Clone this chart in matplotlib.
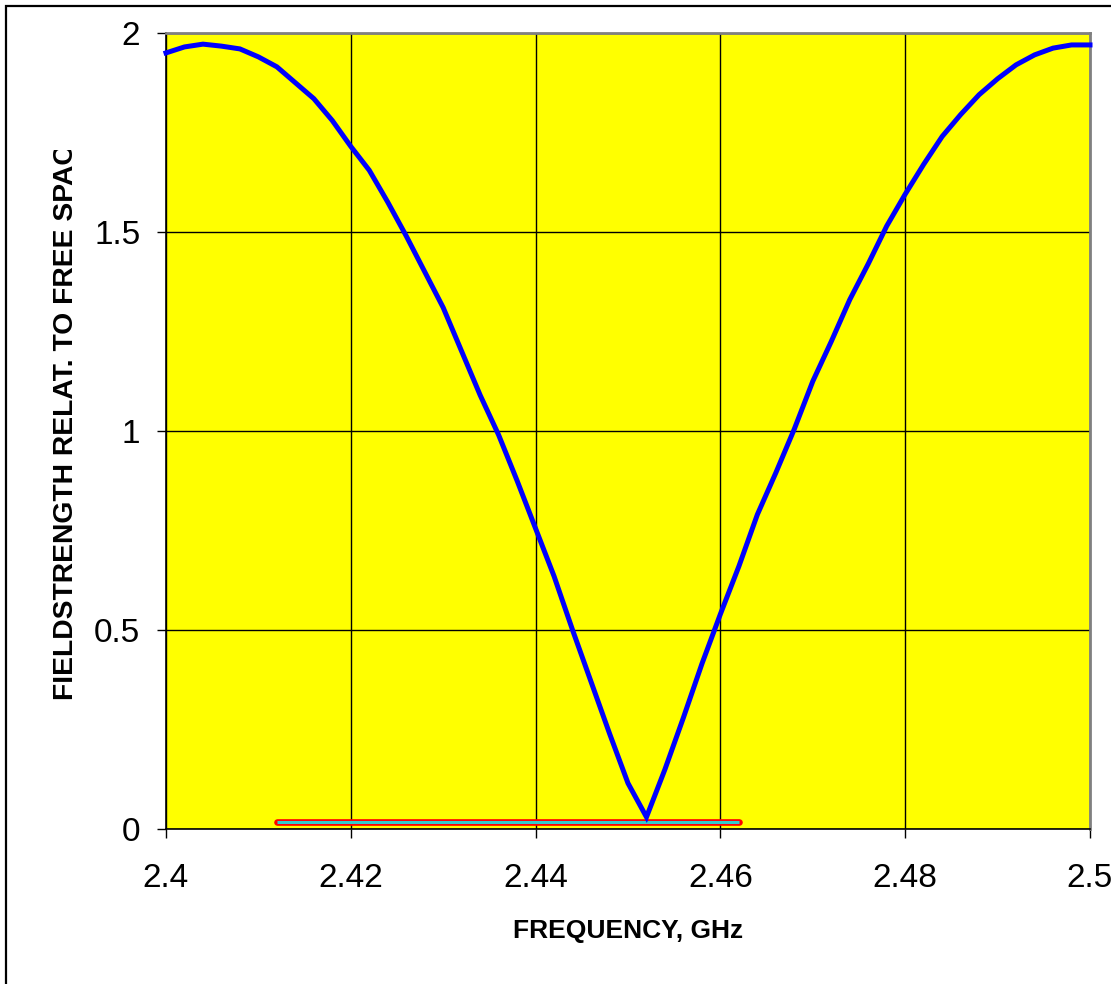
import matplotlib
matplotlib.use("Agg")
import matplotlib.pyplot as plt
from matplotlib.patches import Rectangle
from matplotlib.transforms import Bbox

plt.rcParams['font.family'] = ['Liberation Sans', 'DejaVu Sans']

freq = [2.400, 2.402, 2.404, 2.406, 2.408, 2.410, 2.412, 2.414, 2.416, 2.418,
        2.420, 2.422, 2.424, 2.426, 2.428, 2.430, 2.432, 2.434, 2.436, 2.438,
        2.440, 2.442, 2.444, 2.446, 2.448, 2.450, 2.452, 2.454, 2.456, 2.458,
        2.460, 2.462, 2.464, 2.466, 2.468, 2.470, 2.472, 2.474, 2.476, 2.478,
        2.480, 2.482, 2.484, 2.486, 2.488, 2.490, 2.492, 2.494, 2.496, 2.498,
        2.500]
field = [1.95, 1.965, 1.972, 1.967, 1.96, 1.94, 1.915, 1.875, 1.835, 1.78,
         1.715, 1.655, 1.575, 1.49, 1.40, 1.31, 1.20, 1.09, 0.99, 0.875,
         0.755, 0.635, 0.50, 0.37, 0.24, 0.115, 0.03, 0.15, 0.28, 0.415,
         0.54, 0.66, 0.79, 0.895, 1.005, 1.125, 1.225, 1.33, 1.42, 1.515,
         1.595, 1.67, 1.74, 1.795, 1.845, 1.885, 1.92, 1.945, 1.962, 1.97,
         1.97]
band_x = [2.412, 2.462]
band_y = [0.018, 0.018]

xticks = [2.40, 2.42, 2.44, 2.46, 2.48, 2.50]
xticklabels = ['2.4', '2.42', '2.44', '2.46', '2.48', '2.5']
yticks = [0, 0.5, 1, 1.5, 2]
yticklabels = ['0', '0.5', '1', '1.5', '2']

W, H = 1111, 984
fig = plt.figure(figsize=(W / 100, H / 100), dpi=100)
fig.patch.set_facecolor('white')

ax = fig.add_axes([166 / W, 1 - 829 / H, (1090 - 166) / W, (829 - 33) / H])
ax.set_facecolor('#FFFF00')
ax.set_xlim(2.4, 2.5)
ax.set_ylim(0, 2)
ax.set_xticks(xticks)
ax.set_xticklabels(xticklabels)
ax.set_yticks(yticks)
ax.set_yticklabels(yticklabels)
ax.grid(True, color='black', linewidth=1.0, zorder=1)
ax.set_axisbelow(True)
ax.tick_params(axis='both', direction='out', length=6.5, width=1.0, color='black',
               labelsize=24)
ax.tick_params(axis='x', pad=18)
ax.tick_params(axis='y', pad=12)
for s in ['left', 'bottom']:
    ax.spines[s].set_color('black')
    ax.spines[s].set_linewidth(1.2)
for s in ['top', 'right']:
    ax.spines[s].set_color('#808080')
    ax.spines[s].set_linewidth(2.0)

ax.plot(band_x, band_y, color='red', linewidth=4.8, solid_capstyle='round', zorder=3, clip_on=False)
ax.plot(band_x, band_y, color='#33CCCC', linewidth=2.2, solid_capstyle='butt', zorder=4, clip_on=False)
ax.plot(freq, field, color='#0000FF', linewidth=3.6, zorder=5, clip_on=False,
        solid_joinstyle='miter')

ax.set_xlabel('FREQUENCY, GHz', fontsize=19, fontweight='bold', labelpad=18)

t = fig.text(66 / W, 1 - 700 / H, 'FIELDSTRENGTH RELAT. TO FREE SPACE',
             rotation=90, ha='center', va='bottom', fontsize=20.3, fontweight='bold')
t.set_clip_box(Bbox.from_extents(0, 0, W, H - 150))
t.set_clip_on(True)

frame = Rectangle((6 / W, -0.1), 1.2, 1 - 6 / H + 0.1, transform=fig.transFigure,
                  fill=False, edgecolor='black', linewidth=1.6)
fig.patches.append(frame)

fig.savefig('out.png', dpi=100)
